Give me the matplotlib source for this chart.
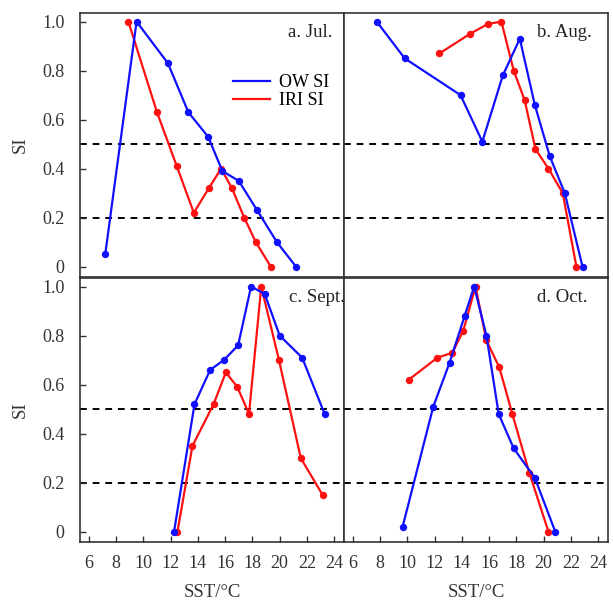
import matplotlib
matplotlib.use("Agg")
import matplotlib.pyplot as plt
from matplotlib.lines import Line2D

plt.rcParams['font.family'] = ['Liberation Serif', 'DejaVu Serif']
plt.rcParams['font.size'] = 13

# SST (degC) and suitability index values
jul_ow_x = [7.2, 9.5, 11.8, 13.3, 14.75, 15.8, 17.0, 18.35, 19.8, 21.2]
jul_ow_y = [0.05, 1.0, 0.83, 0.63, 0.53, 0.39, 0.35, 0.23, 0.10, 0.0]
jul_iri_x = [8.9, 11.0, 12.45, 13.7, 14.8, 15.7, 16.5, 17.4, 18.25, 19.35]
jul_iri_y = [1.0, 0.63, 0.41, 0.22, 0.32, 0.40, 0.32, 0.20, 0.10, 0.0]

aug_ow_x = [7.75, 9.8, 13.9, 15.5, 17.0, 18.25, 19.35, 20.45, 21.55, 22.85]
aug_ow_y = [1.0, 0.85, 0.70, 0.51, 0.78, 0.93, 0.66, 0.45, 0.30, 0.0]
aug_iri_x = [12.35, 14.6, 15.9, 16.9, 17.8, 18.6, 19.4, 20.35, 21.4, 22.4]
aug_iri_y = [0.87, 0.95, 0.99, 1.0, 0.80, 0.68, 0.48, 0.40, 0.30, 0.0]

sep_ow_x = [12.25, 13.75, 14.9, 15.9, 16.95, 17.9, 18.9, 20.0, 21.65, 23.3]
sep_ow_y = [0.0, 0.52, 0.66, 0.70, 0.76, 1.0, 0.97, 0.80, 0.71, 0.48]
sep_iri_x = [12.5, 13.6, 15.15, 16.05, 16.9, 17.75, 18.65, 19.95, 21.55, 23.15]
sep_iri_y = [0.0, 0.35, 0.52, 0.65, 0.59, 0.48, 1.0, 0.70, 0.30, 0.15]

oct_ow_x = [9.65, 11.9, 13.1, 14.2, 14.9, 15.8, 16.7, 17.8, 19.35, 20.85]
oct_ow_y = [0.02, 0.51, 0.69, 0.88, 1.0, 0.80, 0.48, 0.34, 0.22, 0.0]
oct_iri_x = [10.1, 12.2, 13.3, 14.1, 15.0, 15.8, 16.75, 17.7, 18.95, 20.35]
oct_iri_y = [0.62, 0.71, 0.73, 0.82, 1.0, 0.78, 0.67, 0.48, 0.24, 0.0]

panels = [
    ('a. Jul.', jul_ow_x, jul_ow_y, jul_iri_x, jul_iri_y, 0.787),
    ('b. Aug.', aug_ow_x, aug_ow_y, aug_iri_x, aug_iri_y, 0.730),
    ('c. Sept.', sep_ow_x, sep_ow_y, sep_iri_x, sep_iri_y, 0.790),
    ('d. Oct.', oct_ow_x, oct_ow_y, oct_iri_x, oct_iri_y, 0.730),
]

x_ticks = [6, 8, 10, 12, 14, 16, 18, 20, 22, 24]
y_ticks = [0, 0.2, 0.4, 0.6, 0.8, 1.0]
y_labels = ['0', '0.2', '0.4', '0.6', '0.8', '1.0']

W, H = 613, 601
fig = plt.figure(figsize=(W / 100, H / 100), dpi=100)

ax_w = 264 / W
ax_h = 264.5 / H
lefts = [80 / W, 344 / W]
bottoms = [1 - 277 / H, 1 - 542 / H]

spine_col = '#333333'
txt_col = '#333333'
ow_col = '#1010ff'
iri_col = '#ff1010'

for i, (label, ox, oy, rx, ry, lx) in enumerate(panels):
    row, col = divmod(i, 2)
    ax = fig.add_axes([lefts[col], bottoms[row], ax_w, ax_h])
    ax.set_xlim(5.35, 24.72)
    ax.set_ylim(-0.042, 1.037)

    ax.axhline(0.5, color='black', ls=(0, (3.5, 3)), lw=1.4, zorder=1)
    ax.axhline(0.2, color='black', ls=(0, (3.5, 3)), lw=1.4, zorder=1)

    ax.plot(rx, ry, color=iri_col, lw=1.6, marker='o', ms=4.3, zorder=3)
    ax.plot(ox, oy, color=ow_col, lw=1.6, marker='o', ms=4.3, zorder=4)

    ax.text(lx, 0.924, label, transform=ax.transAxes, ha='left', va='center',
            fontsize=13.5, color='#222222')

    for s in ax.spines.values():
        s.set_color(spine_col)
        s.set_linewidth(1.2)

    ax.set_xticks(x_ticks)
    ax.set_yticks(y_ticks)
    ax.tick_params(direction='in', length=4, width=1, color=spine_col,
                   labelcolor=txt_col, labelsize=13)
    ax.tick_params(axis='y', pad=11)
    ax.tick_params(axis='x', pad=9)

    if row == 1:
        ax.set_xlabel('SST/°C', fontsize=13.5, color=txt_col, labelpad=9)
    else:
        ax.tick_params(axis='x', bottom=False, labelbottom=False)
    if col == 0:
        ax.set_yticklabels(y_labels)
        ax.set_ylabel('SI', fontsize=13.5, color=txt_col, labelpad=10)
    else:
        ax.tick_params(axis='y', left=False, labelleft=False)

    if i == 0:
        handles = [Line2D([], [], color=ow_col, lw=1.6),
                   Line2D([], [], color=iri_col, lw=1.6)]
        ax.legend(handles, ['OW SI', 'IRI SI'], loc='upper left',
                  bbox_to_anchor=(0.53, 0.815), frameon=False, fontsize=13,
                  handlelength=2.1, handletextpad=0.45, labelspacing=0.05,
                  borderpad=0.2)

fig.savefig('out.png', dpi=100)
